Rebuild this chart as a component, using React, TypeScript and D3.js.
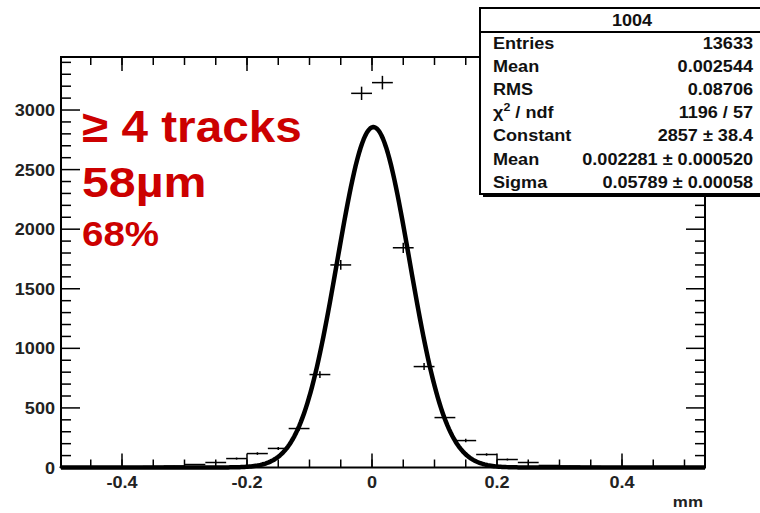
import * as d3 from "d3";

const W = 760;
const H = 513;

// histogram "1004": 30 bins between histMin and histMax
const histMin = -0.5;
const histMax = 0.5;
const counts = [
  2, 3, 5, 5, 8, 12, 25, 42, 75, 117, 160, 327, 780, 1700, 3140,
  3230, 1844, 847, 419, 226, 109, 67, 42, 17, 12, 8, 6, 5, 3, 2,
];

// gaussian fit parameters (from the stats box)
const fitConstant = 2857;
const fitMean = 0.002281;
const fitSigma = 0.05789;

const statsTitle = "1004";
const statsLabels = ["Entries", "Mean", "RMS", "chi", "Constant", "Mean", "Sigma"];
const statsValues = [
  "13633",
  "0.002544",
  "0.08706",
  "1196 / 57",
  "2857 ± 38.4",
  "0.002281 ± 0.000520",
  "0.05789 ± 0.00058",
];

const xTicks = [-0.4, -0.2, 0, 0.2, 0.4];
const xTickLabels = ["-0.4", "-0.2", "0", "0.2", "0.4"];
const yTicks = [0, 500, 1000, 1500, 2000, 2500, 3000];
const xDomain = [-0.4976, 0.5328];
const yDomain = [0, 3445];

const notes = ["≥ 4 tracks", "58µm", "68%"];

const FONT = "'Liberation Sans', Arial, Helvetica, sans-serif";
const RED = "#cc0000";
const SX = 1.13; // the picture's text is a bit wider than the font

// text stretched horizontally around its anchor point
const Txt = ({ x, y, sx = SX, children, ...rest }: any) => (
  <text transform={`translate(${x},${y}) scale(${sx},1)`} {...rest}>
    {children}
  </text>
);

export default function App() {
  // frame in pixels
  const L = 61, R = 705, T = 57, B = 467.5;
  const x = d3.scaleLinear().domain(xDomain).range([L, R]);
  const y = d3.scaleLinear().domain(yDomain).range([B, T]);

  const bw = (histMax - histMin) / counts.length;

  // fitted function drawn over the frame
  const nPts = 400;
  const curvePts: [number, number][] = d3.range(nPts + 1).map((i) => {
    const v = xDomain[0] + ((xDomain[1] - xDomain[0]) * i) / nPts;
    return [v, fitConstant * Math.exp(-0.5 * ((v - fitMean) / fitSigma) ** 2)];
  });
  const line = d3
    .line<[number, number]>()
    .x((d) => x(d[0]))
    .y((d) => Math.min(B, y(d[1])));

  const xMinor = d3.range(-9, 11).map((i) => i * 0.05).filter((v) => v > xDomain[0] && v < xDomain[1]);
  const yMinor = d3.range(1, 35).map((i) => i * 100).filter((v) => v % 500 !== 0);

  // stats box
  const sbL = 480, sbR = 786, sbT = 8, sbB = 194, sbSep = 32;
  const rowY = (i: number) => 49 + i * 23.1;

  return (
    <svg
      width={W}
      height={H}
      style={{ position: "absolute", left: 0, top: 0, background: "#fff" }}
      fontFamily={FONT}
    >
      <rect x={0} y={0} width={W} height={H} fill="#fff" />

      {/* histogram with error bars */}
      <g stroke="#000" strokeWidth={1.5} fill="none">
        {counts.map((c, i) => {
          const lo = histMin + i * bw;
          const hi = lo + bw;
          const mid = lo + bw / 2;
          const e = Math.sqrt(c);
          return (
            <g key={i}>
              <line x1={x(lo)} x2={x(hi)} y1={y(c)} y2={y(c)} />
              <line x1={x(mid)} x2={x(mid)} y1={Math.min(B, y(c - e))} y2={y(c + e)} />
            </g>
          );
        })}
      </g>

      {/* fit curve */}
      <path d={line(curvePts) ?? ""} fill="none" stroke="#000" strokeWidth={4.5} strokeLinejoin="round" />

      {/* frame */}
      <rect x={L} y={T} width={R - L} height={B - T} fill="none" stroke="#000" strokeWidth={2} />

      {/* x ticks bottom & top, y ticks left & right */}
      <g stroke="#000" strokeWidth={1.5}>
        {xTicks.map((v) => (
          <g key={"xt" + v}>
            <line x1={x(v)} x2={x(v)} y1={B} y2={B - 14} />
            <line x1={x(v)} x2={x(v)} y1={T} y2={T + 14} />
          </g>
        ))}
        {xMinor.map((v) => (
          <g key={"xm" + v}>
            <line x1={x(v)} x2={x(v)} y1={B} y2={B - 8} />
            <line x1={x(v)} x2={x(v)} y1={T} y2={T + 8} />
          </g>
        ))}
        {yTicks.map((v) => (
          <g key={"yt" + v}>
            <line x1={L} x2={L + 19} y1={y(v)} y2={y(v)} />
            <line x1={R} x2={R - 19} y1={y(v)} y2={y(v)} />
          </g>
        ))}
        {yMinor.map((v) => (
          <g key={"ym" + v}>
            <line x1={L} x2={L + 10} y1={y(v)} y2={y(v)} />
            <line x1={R} x2={R - 10} y1={y(v)} y2={y(v)} />
          </g>
        ))}
      </g>

      {/* tick labels */}
      <g fontSize={16} fontWeight="bold" fill="#222">
        {yTicks.map((v) => (
          <Txt key={"yl" + v} x={55} y={y(v) + 6} textAnchor="end">
            {v}
          </Txt>
        ))}
        {xTicks.map((v, i) => (
          <Txt key={"xl" + v} x={x(v)} y={488} textAnchor="middle">
            {xTickLabels[i]}
          </Txt>
        ))}
        <Txt x={703} y={507} textAnchor="end" fontSize={15}>
          mm
        </Txt>
      </g>

      {/* red annotations */}
      <g fill={RED} fontWeight="bold">
        <Txt x={82} y={142} fontSize={45} sx={1.06}>{notes[0]}</Txt>
        <Txt x={82} y={197} fontSize={42} sx={1.15}>{notes[1]}</Txt>
        <Txt x={82} y={246} fontSize={35} sx={1.1}>{notes[2]}</Txt>
      </g>

      {/* stats box */}
      <rect x={sbL + 3} y={sbT + 3} width={sbR - sbL} height={sbB - sbT} fill="#000" />
      <rect x={sbL} y={sbT} width={sbR - sbL} height={sbB - sbT} fill="#fff" stroke="#000" strokeWidth={2} />
      <line x1={sbL} x2={sbR} y1={sbSep} y2={sbSep} stroke="#000" strokeWidth={2} />
      <Txt x={632} y={26} textAnchor="middle" fontSize={16} fontWeight="bold" fill="#111">
        {statsTitle}
      </Txt>
      <g fontSize={16} fontWeight="bold" fill="#111">
        {statsLabels.map((lab, i) => (
          <Txt key={"sl" + i} x={493} y={rowY(i)}>
            {lab === "chi" ? (
              <>
                χ<tspan fontSize={11} dy={-7}>2</tspan>
                <tspan dy={7}> / ndf</tspan>
              </>
            ) : (
              lab
            )}
          </Txt>
        ))}
        {statsValues.map((val, i) => (
          <Txt key={"sv" + i} x={753} y={rowY(i)} textAnchor="end">
            {val}
          </Txt>
        ))}
      </g>
    </svg>
  );
}
